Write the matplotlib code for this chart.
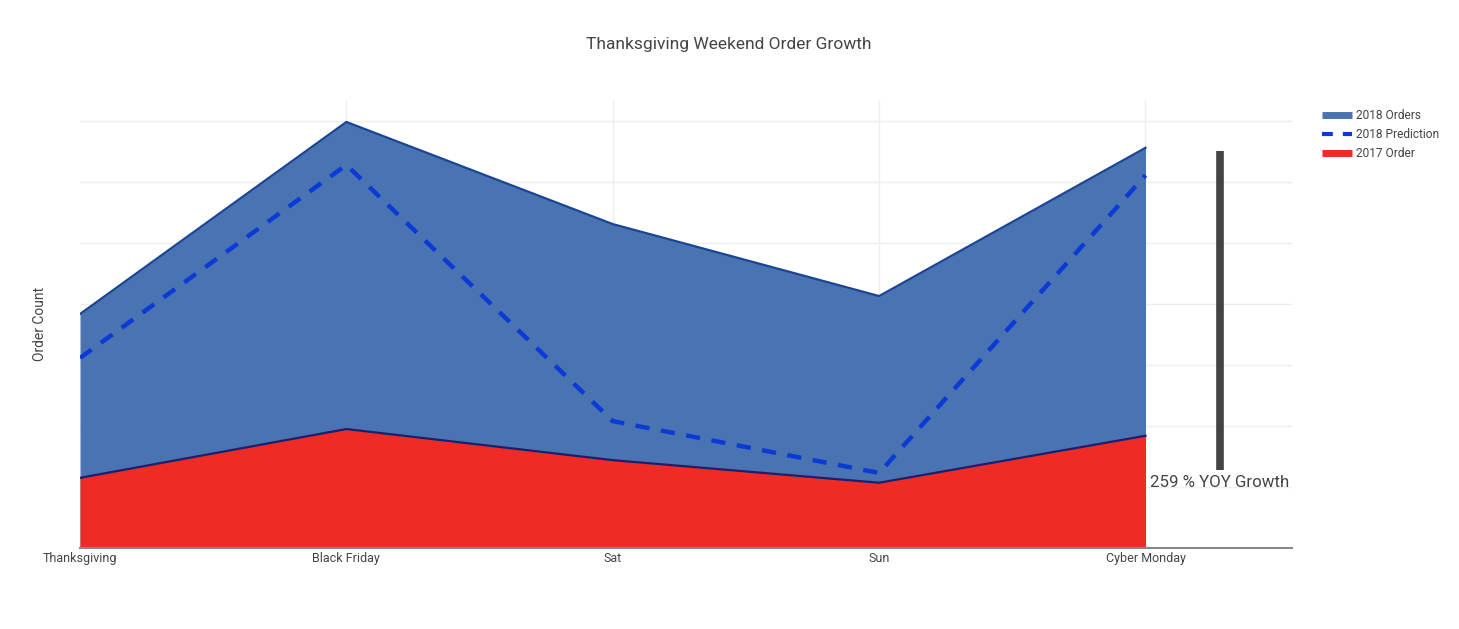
import matplotlib
matplotlib.use("Agg")
import matplotlib.pyplot as plt
from matplotlib.lines import Line2D

plt.rcParams['font.family'] = ['Roboto', 'DejaVu Sans']

categories = ["Thanksgiving", "Black Friday", "Sat", "Sun", "Cyber Monday"]
orders_2018 = [3836, 6984, 5310, 4130, 6560]
prediction_2018 = [3115, 6280, 2080, 1230, 6110]
orders_2017 = [1150, 1950, 1440, 1070, 1840]
growth_label = "259 % YOY Growth"
growth_bar = [1280, 6500]
growth_x = 4.28

fig = plt.figure(figsize=(14.59, 6.29), dpi=100)
ax = fig.add_axes([80/1459, (629-548)/629, (1292-80)/1459, 448/629])

x = list(range(len(categories)))

ax.fill_between(x, 0, orders_2018, color="#4a74b1", zorder=2, linewidth=0)
ax.plot(x, orders_2018, color="#1a4596", linewidth=1.6, zorder=3)
ax.fill_between(x, 0, orders_2017, color="#ee2b24", zorder=4, linewidth=0)
ax.plot(x, orders_2017, color="#1d1f6e", linewidth=1.6, zorder=5)
ax.plot(x, prediction_2018, color="#0a3bd6", linewidth=3.2, linestyle=(0, (3.2, 2.6)), zorder=6)

ax.plot([growth_x, growth_x], growth_bar, color="#444444", linewidth=5.5, solid_capstyle="butt", zorder=7)
ax.text(growth_x, 1080, growth_label, ha="center", va="center", fontsize=12.2, color="#444444", zorder=8)

ax.set_xlim(0, 4.55)
ax.set_ylim(0, 7344)
ax.set_xticks(x)
ax.set_xticklabels(categories, fontsize=9, color="#444444")
ax.set_yticks([1000 * i for i in range(1, 8)])
ax.set_yticklabels([])
ax.tick_params(axis="both", length=0, pad=3)
ax.grid(True, axis="y", color="#eeeeee", linewidth=1, zorder=0)
for xi in x[1:]:
    ax.axvline(xi, color="#eeeeee", linewidth=1, zorder=0)
ax.set_axisbelow(True)
for s in ["top", "right", "left"]:
    ax.spines[s].set_visible(False)
ax.spines["bottom"].set_color("#888888")
ax.spines["bottom"].set_linewidth(1.5)
ax.spines["bottom"].set_zorder(9)

ax.set_ylabel("Order Count", fontsize=10, color="#444444", labelpad=21)
fig.text(729/1459, 1 - 44/629, "Thanksgiving Weekend Order Growth", ha="center", va="center",
         fontsize=12.5, color="#444444")

handles = [
    Line2D([0], [0], color="#4a74b1", linewidth=5, solid_capstyle="butt"),
    Line2D([0], [0], color="#0a3bd6", linewidth=3, linestyle=(0, (2.6, 2.4))),
    Line2D([0], [0], color="#ee2b24", linewidth=5, solid_capstyle="butt"),
]
leg = fig.legend(handles, ["2018 Orders", "2018 Prediction", "2017 Order"],
                 loc="upper left", bbox_to_anchor=(1317/1459, 1 - 104/629),
                 frameon=False, fontsize=8.6, handlelength=2.5, handletextpad=0.35,
                 labelspacing=0.5, borderaxespad=0)
for t in leg.get_texts():
    t.set_color("#444444")

fig.savefig("out.png", dpi=100, facecolor="white")
